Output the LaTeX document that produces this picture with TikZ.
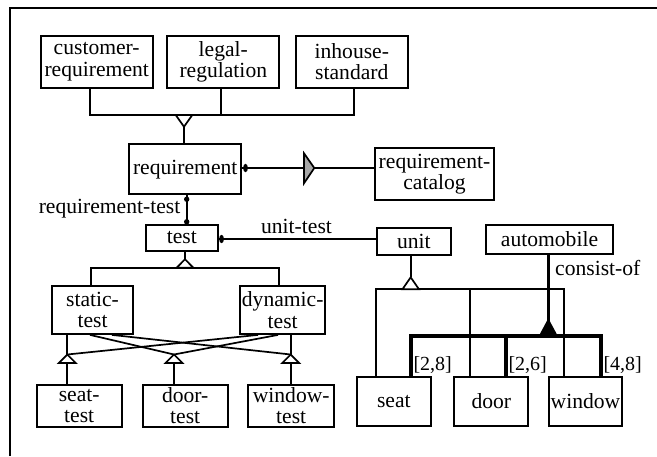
\documentclass[tikz,border=0pt]{standalone}
\usepackage{fontspec}
\setmainfont{Liberation Serif}
\usetikzlibrary{calc}
\begin{document}
\begin{tikzpicture}[x=1pt,y=-1pt,
  txt/.style={font=\fontsize{21.6}{21.5}\selectfont},
  lbl/.style={font=\fontsize{21.6}{21.5}\selectfont, inner sep=0pt},
  mult/.style={font=\fontsize{20}{20}\selectfont, inner sep=0pt, anchor=west},
  box/.style={draw, line width=1.8pt, inner sep=0pt, align=center, txt},
  conn/.style={line width=1.7pt},
  thick conn/.style={line width=3.6pt},
  tri/.style={line width=1.7pt, fill=white, line join=miter}]
\useasboundingbox (0,0) rectangle (657,456);
% frame
\draw[line width=2.2pt] (10,456) -- (10,8) -- (657,8);
% boxes
\node[box, minimum width=112pt, minimum height=51.7pt] (cust) at (96.7,61.8) {customer-\\requirement};
\node[box, minimum width=112pt, minimum height=51.7pt] (legal) at (223.3,61.8) {legal-\\regulation};
\node[box, minimum width=111.7pt, minimum height=51.7pt] (inh) at (351.8,61.8) {inhouse-\\standard};
\node[box, minimum width=111.7pt, minimum height=50.3pt] (req) at (185.2,169.2) {requirement};
\node[box, minimum width=118.4pt, minimum height=51.7pt] (cat) at (434.5,174.2) {requirement-\\catalog};
\node[box, minimum width=71.7pt, minimum height=26pt] (test) at (181.8,237.7) {test};
\node[box, minimum width=74.3pt, minimum height=26.4pt] (unit) at (413.8,241.5) {unit};
\node[box, minimum width=127.6pt, minimum height=29.3pt] (auto) at (549.5,239.3) {automobile};
\node[box, minimum width=81.6pt, minimum height=48pt] (stat) at (92.5,310) {static-\\test};
\node[box, minimum width=85.3pt, minimum height=48pt] (dyn) at (282.7,310) {dynamic-\\test};
\node[box, minimum width=85pt, minimum height=41.7pt] (seatt) at (79.2,405.8) {seat-\\test};
\node[box, minimum width=85pt, minimum height=41.7pt] (doort) at (185.2,405.8) {door-\\test};
\node[box, minimum width=85.7pt, minimum height=41.7pt] (wint) at (291.2,405.8) {window-\\test};
\node[box, minimum width=74.3pt, minimum height=49pt] (seat) at (393.8,401.2) {seat};
\node[box, minimum width=74pt, minimum height=49pt] (door) at (491.3,401.2) {door};
\node[box, minimum width=73.6pt, minimum height=49pt] (win) at (585.5,401.2) {window};

% requirement generalization
\coordinate (g1a) at (90,115);
\coordinate (g1b) at (220.7,115);
\coordinate (g1c) at (354,115);
\coordinate (g1t) at (184,115);
\draw[conn] (cust.south -| g1a) -- (g1a) -- (g1c) -- (inh.south -| g1c);
\draw[conn] (legal.south -| g1b) -- (g1b);
\draw[tri] (g1t) ++(-8.3,0) -- ++(16.6,0) -- ++(-8.3,11.7) -- cycle;
\draw[conn] ($(g1t)+(0,11.7)$) -- (req.north -| g1t);

% requirement - catalog
\coordinate (rc) at (241,168);
\draw[conn] (req.east |- rc) -- (cat.west |- rc);
\fill ($(rc)+(4.5,0)$) ellipse [x radius=2.4pt, y radius=4.2pt];
\draw[line width=1.7pt, fill=gray!70, line join=miter] (304,153.3) -- (314.3,168) -- (304,183.3) -- cycle;

% requirement-test
\coordinate (rt) at (186.7,200);
\draw[conn] (req.south -| rt) -- (test.north -| rt);
\fill ($(req.south -| rt)+(0,4)$) circle [radius=2.7pt];
\fill ($(test.north -| rt)+(0,-2)$) circle [radius=2.7pt];
\node[lbl, anchor=east] (rtl) at (180.5,209) {requirement-test};

% unit-test
\coordinate (ut) at (217.7,239);
\draw[conn] (test.east |- ut) -- (unit.west |- ut);
\fill ($(test.east |- ut)+(3,0)$) ellipse [x radius=2.4pt, y radius=4.2pt];
\node[lbl] (utl) at (296.5,226) {unit-test};

% test generalization
\coordinate (g2t) at (185,267.7);
\coordinate (g2a) at (90.7,267.7);
\coordinate (g2b) at (279.3,267.7);
\draw[conn] (stat.north -| g2a) -- (g2a) -- (g2b) -- (dyn.north -| g2b);
\draw[conn] (test.south -| g2t) -- ($(g2t)+(0,-8.5)$);
\draw[tri] (g2t) ++(-8.3,0) -- ++(16.6,0) -- ++(-8.3,-8.5) -- cycle;

% multiple inheritance
\coordinate (ms) at (67.3,354.5);
\coordinate (md) at (174,354.5);
\coordinate (mw) at (290.7,354.5);
\draw[conn] (stat.south -| ms) -- (ms);
\draw[conn] ($(stat.south)+(-2.5,0)$) -- (md);
\draw[conn] ($(stat.south)+(19.5,0)$) -- (mw);
\draw[conn] ($(dyn.south)+(-24.7,0)$) -- (ms);
\draw[conn] ($(dyn.south)+(-4.7,0)$) -- (md);
\draw[conn] (dyn.south -| mw) -- (mw);
\foreach \c/\b in {ms/seatt, md/doort, mw/wint}{
  \draw[tri] (\c) -- ++(8.5,8.5) -- ++(-17,0) -- cycle;
  \draw[conn] ($(\c)+(0,8.5)$) -- (\b.north -| \c);
}

% unit generalization
\coordinate (g3t) at (410.7,289.3);
\coordinate (g3a) at (375.7,289.3);
\coordinate (g3b) at (470,289.3);
\coordinate (g3c) at (564,289.3);
\draw[conn] (seat.north -| g3a) -- (g3a) -- (g3c) -- (win.north -| g3c);
\draw[conn] (g3b) -- (door.north -| g3b);
\draw[conn] (unit.south -| g3t) -- ($(g3t)+(0,-12)$);
\draw[tri] (g3t) ++(-8.3,0) -- ++(16.6,0) -- ++(-8.3,-12) -- cycle;

% aggregation consist-of
\coordinate (ag) at (548.3,336);
\coordinate (aa) at (411,336);
\coordinate (ab) at (506,336);
\coordinate (ac) at (601,336);
\draw[thick conn] (auto.south -| ag) -- ($(ag)+(0,-10)$);
\draw[thick conn] (seat.north -| aa) -- (aa) -- (ac) -- (win.north -| ac);
\draw[thick conn] (ab) -- (door.north -| ab);
\fill (ag) ++(-9.5,0) -- ++(19,0) -- ++(-9.5,-17.7) -- cycle;
\node[lbl, anchor=west] (col) at (555,268.3) {consist-of};
\node[mult] (m1) at (413.3,365) {[2,8]};
\node[mult] (m2) at (508.3,365) {[2,6]};
\node[mult] (m3) at (603.3,365) {[4,8]};
\end{tikzpicture}
\end{document}
